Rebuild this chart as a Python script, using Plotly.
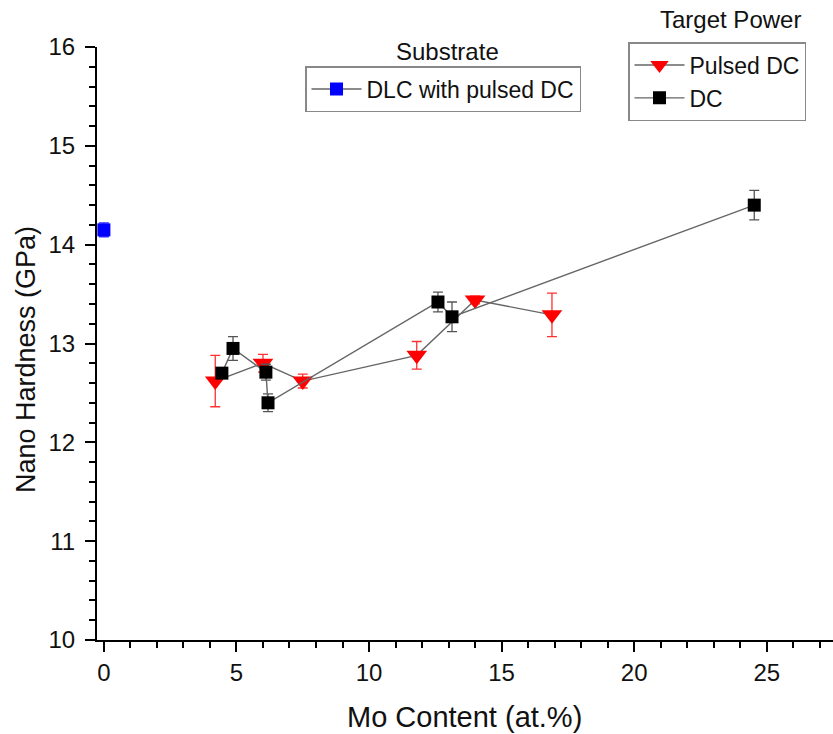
import plotly.graph_objects as go

# Data
pdc_x = [4.2, 6.0, 7.5, 11.8, 14.0, 16.9]
pdc_y = [12.62, 12.80, 12.62, 12.88, 13.44, 13.29]
pdc_err = [0.26, 0.09, 0.07, 0.14, 0.04, 0.22]

dc_x = [4.45, 4.87, 6.11, 6.19, 12.6, 13.13, 24.53]
dc_y = [12.70, 12.95, 12.71, 12.40, 13.42, 13.27, 14.40]
dc_err = [0.05, 0.12, 0.08, 0.09, 0.10, 0.15, 0.15]

dlc_x = [0.0]
dlc_y = [14.15]
dlc_err = [0.07]

x_ticks = [0, 5, 10, 15, 20, 25]
y_ticks = [10, 11, 12, 13, 14, 15, 16]

FONT = "Liberation Sans, Arial, sans-serif"

W, H = 833, 734
L, R, T, B = 97, 0, 47, 94
PW, PH = W - L - R, H - T - B


def px(xp):
    return (xp - L) / PW


def py(yp):
    return 1 - (yp - T) / PH


fig = go.Figure()

fig.add_trace(go.Scatter(
    x=pdc_x, y=pdc_y, name="Pulsed DC", mode="lines+markers",
    line=dict(color="#666666", width=1.4),
    marker=dict(symbol="triangle-down", size=18, color="#ff0000"),
    error_y=dict(type="data", array=pdc_err, color="#ff3030", thickness=1.3, width=5),
    legend="legend",
))
fig.add_trace(go.Scatter(
    x=dc_x, y=dc_y, name="DC", mode="lines+markers",
    line=dict(color="#666666", width=1.4),
    marker=dict(symbol="square", size=13, color="#000000"),
    error_y=dict(type="data", array=dc_err, color="#555555", thickness=1.3, width=5),
    legend="legend",
))
fig.add_trace(go.Scatter(
    x=dlc_x, y=dlc_y, name="DLC with pulsed DC", mode="lines+markers",
    line=dict(color="#666666", width=1.4),
    marker=dict(symbol="square", size=13, color="#0000ff"),
    error_y=dict(type="data", array=dlc_err, color="#3030ff", thickness=1.3, width=5),
    legend="legend2",
))

fig.update_layout(
    width=W, height=H,
    margin=dict(l=L, r=R, t=T, b=B, autoexpand=False),
    paper_bgcolor="white", plot_bgcolor="white",
    font=dict(family=FONT, color="#111111"),
    showlegend=True,
    legend=dict(
        x=px(628), y=py(42), xanchor="left", yanchor="top",
        bordercolor="#888888", borderwidth=1.5, bgcolor="white",
        font=dict(size=23, family=FONT), tracegroupgap=0, itemwidth=50,
    ),
    legend2=dict(
        x=px(305), y=py(66), xanchor="left", yanchor="top",
        bordercolor="#888888", borderwidth=1.5, bgcolor="white",
        font=dict(size=23, family=FONT), itemwidth=50,
    ),
    xaxis=dict(
        range=[-0.26, 27.5], tickmode="array", tickvals=x_ticks,
        ticks="outside", ticklen=10, tickwidth=2, tickcolor="black",
        showline=True, linecolor="black", linewidth=2, showgrid=False, zeroline=False,
        tickfont=dict(size=24, family=FONT), automargin=False,
        minor=dict(ticks="outside", dtick=1, ticklen=6, tickwidth=2, tickcolor="black"),
    ),
    yaxis=dict(
        range=[10, 16], tickmode="array", tickvals=y_ticks,
        ticks="outside", ticklen=10, tickwidth=2, tickcolor="black",
        showline=True, linecolor="black", linewidth=2, showgrid=False, zeroline=False,
        tickfont=dict(size=24, family=FONT), automargin=False, ticklabelstandoff=5,
        minor=dict(ticks="outside", dtick=0.2, ticklen=6, tickwidth=2, tickcolor="black"),
    ),
    annotations=[
        dict(text="Target Power", xref="paper", yref="paper", showarrow=False,
             x=px(730), y=py(20), xanchor="center", yanchor="middle",
             font=dict(size=24, family=FONT)),
        dict(text="Substrate", xref="paper", yref="paper", showarrow=False,
             x=px(447), y=py(52), xanchor="center", yanchor="middle",
             font=dict(size=24, family=FONT)),
        dict(text="Mo Content (at.%)", xref="paper", yref="paper", showarrow=False,
             x=px(464), y=py(717), xanchor="center", yanchor="middle",
             font=dict(size=29, family=FONT)),
        dict(text="Nano Hardness (GPa)", xref="paper", yref="paper", showarrow=False,
             x=px(26), y=py(360), xanchor="center", yanchor="middle", textangle=-90,
             font=dict(size=27, family=FONT)),
    ],
)

fig.write_html("out.html")
